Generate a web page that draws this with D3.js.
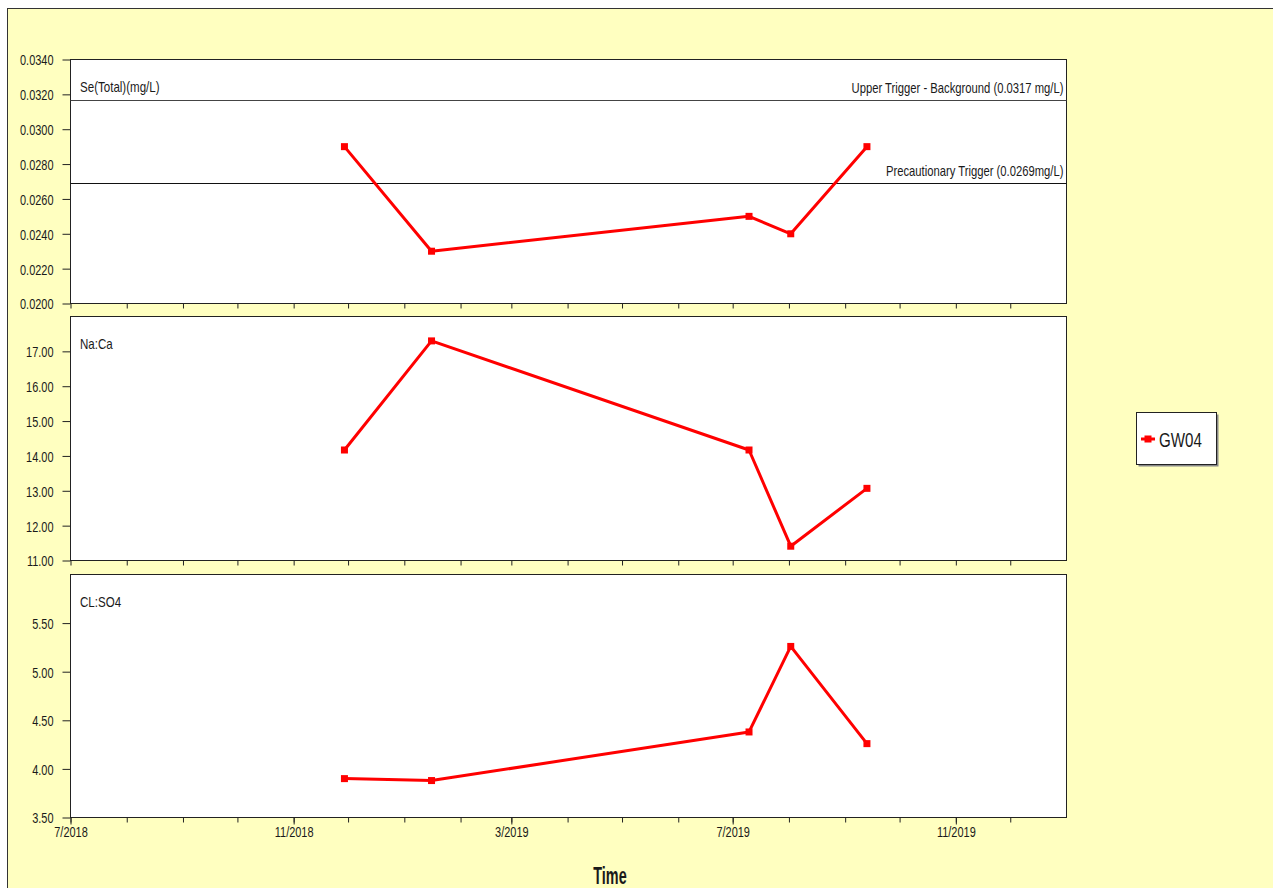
<!DOCTYPE html>
<html>
<head>
<meta charset="utf-8">
<script src="https://cdn.jsdelivr.net/npm/d3@7/dist/d3.min.js"></script>
<style>
  html, body { margin: 0; padding: 0; background: #ffffff; }
  svg { display: block; }
  text { font-family: "Liberation Sans Narrow", "Arial Narrow", "Liberation Sans", Arial, sans-serif; fill: #1a1a1a; }
</style>
</head>
<body>
<svg id="chart" width="1273" height="888"></svg>
<script>
// Sample dates for well GW04
const sampleDates = ["2018-11-29", "2019-01-16", "2019-07-10", "2019-08-02", "2019-09-13"];
// Measured values per parameter
const seTotal = [0.029, 0.023, 0.025, 0.024, 0.029];
const naCa = [14.17, 17.30, 14.17, 11.41, 13.07];
const clSo4 = [3.90, 3.88, 4.38, 5.26, 4.26];
// Trigger levels for selenium
const triggerValues = [0.0317, 0.0269];
const triggerLabels = ["Upper Trigger - Background (0.0317 mg/L)", "Precautionary Trigger (0.0269mg/L)"];
// Panel titles and y domains / tick values
const panelTitles = ["Se(Total)(mg/L)", "Na:Ca", "CL:SO4"];
const panelDomains = [[0.020, 0.034], [11, 18], [3.5, 6.0]];
const panelTicks = [
  [0.0200, 0.0220, 0.0240, 0.0260, 0.0280, 0.0300, 0.0320, 0.0340],
  [11, 12, 13, 14, 15, 16, 17],
  [3.5, 4.0, 4.5, 5.0, 5.5]
];
const panelFormats = [".4f", ".2f", ".2f"];
const seriesName = "GW04";
const xTitle = "Time";

const svg = d3.select("#chart");
const parse = d3.timeParse("%Y-%m-%d");
const dates = sampleDates.map(parse);

// Narrow lettering: squeeze each glyph run horizontally by a factor
function condense(sel, f) {
  sel.each(function () {
    const len = this.getComputedTextLength();
    d3.select(this).attr("textLength", len * f).attr("lengthAdjust", "spacingAndGlyphs");
  });
}

// Chart background with its frame
svg.append("rect").attr("x", 7.5).attr("y", 8.5).attr("width", 1280).attr("height", 900)
  .attr("fill", "#ffffc0").attr("stroke", "#333").attr("stroke-width", 1);

const left = 70.5, right = 1066.5;
const panels = [
  { top: 59.5, bottom: 303.5, values: seTotal },
  { top: 316.5, bottom: 560.5, values: naCa },
  { top: 574.5, bottom: 817.5, values: clSo4 }
];

const x = d3.scaleTime()
  .domain([new Date(2018, 6, 1), new Date(2020, 0, 1)])
  .range([left, right]);

const monthTicks = d3.timeMonth.range(new Date(2018, 6, 1), new Date(2020, 0, 1));

panels.forEach((p, i) => {
  const y = d3.scaleLinear().domain(panelDomains[i]).range([p.bottom, p.top]);
  const g = svg.append("g");

  g.append("rect").attr("x", left).attr("y", p.top)
    .attr("width", right - left).attr("height", p.bottom - p.top)
    .attr("fill", "#ffffff").attr("stroke", "#222").attr("stroke-width", 1);

  // y axis
  const yAxis = d3.axisLeft(y).tickValues(panelTicks[i])
    .tickFormat(d3.format(panelFormats[i])).tickSize(8).tickSizeOuter(0).tickPadding(9);
  const ya = g.append("g").attr("transform", `translate(${left},0)`).call(yAxis);
  ya.select(".domain").remove();
  ya.selectAll("line").attr("stroke", "#222");
  ya.selectAll("text").attr("font-size", 15).style("font-family", null).attr("fill", "#1a1a1a")
    .attr("dy", "0.36em").call(condense, 0.73);

  // monthly ticks under each panel
  const isBottom = i === panels.length - 1;
  const xAxis = d3.axisBottom(x).tickValues(monthTicks)
    .tickSize(5).tickSizeOuter(0).tickFormat("");
  const xa = g.append("g").attr("transform", `translate(0,${p.bottom})`).call(xAxis);
  xa.select(".domain").remove();
  xa.selectAll("line").attr("stroke", "#222");

  if (isBottom) {
    const labelTicks = monthTicks.filter((d, k) => k % 4 === 0);
    const xl = g.append("g").attr("transform", `translate(0,${p.bottom})`)
      .call(d3.axisBottom(x).tickValues(labelTicks).tickSize(7)
        .tickFormat(d3.timeFormat("%-m/%Y")).tickPadding(2));
    xl.select(".domain").remove();
    xl.selectAll("line").attr("stroke", "#222");
    xl.selectAll("text").attr("font-size", 15).style("font-family", null).attr("fill", "#1a1a1a")
      .call(condense, 0.73);
  }

  // panel title
  g.append("text").attr("x", 80).attr("y", p.top + 32)
    .attr("font-size", 15).text(panelTitles[i]).call(condense, 0.77);

  // trigger lines for the selenium panel
  if (i === 0) {
    triggerValues.forEach((v, k) => {
      const ty = Math.round(y(v)) + 0.5;
      g.append("line").attr("x1", left).attr("x2", right).attr("y1", ty).attr("y2", ty)
        .attr("stroke", k === 0 ? "#444" : "#111").attr("stroke-width", 1);
      g.append("text").attr("x", right - 3).attr("y", ty - 7.5)
        .attr("text-anchor", "end").attr("font-size", 15).text(triggerLabels[k])
        .call(condense, 0.75);
    });
  }

  // data series
  const pts = dates.map((d, k) => [x(d), y(p.values[k])]);
  g.append("path").attr("d", d3.line()(pts))
    .attr("fill", "none").attr("stroke", "#ff0000").attr("stroke-width", 3)
    .attr("stroke-linejoin", "round");
  g.selectAll("rect.marker").data(pts).join("rect").attr("class", "marker")
    .attr("x", d => d[0] - 3.5).attr("y", d => d[1] - 3.5)
    .attr("width", 7).attr("height", 7).attr("fill", "#ff0000");
});

// axis title
svg.append("text").attr("x", 610).attr("y", 884).attr("text-anchor", "middle")
  .attr("font-size", 24).attr("font-weight", "bold").text(xTitle).call(condense, 0.6);

// legend
const lg = svg.append("g");
lg.append("rect").attr("x", 1138.5).attr("y", 414.5).attr("width", 80).attr("height", 52)
  .attr("fill", "#888");
lg.append("rect").attr("x", 1136.5).attr("y", 412.5).attr("width", 80).attr("height", 52)
  .attr("fill", "#ffffff").attr("stroke", "#222").attr("stroke-width", 1);
lg.append("line").attr("x1", 1141).attr("x2", 1155).attr("y1", 439).attr("y2", 439)
  .attr("stroke", "#ff0000").attr("stroke-width", 3);
lg.append("rect").attr("x", 1144.5).attr("y", 435.5).attr("width", 7).attr("height", 7).attr("fill", "#ff0000");
lg.append("text").attr("x", 1159).attr("y", 446.5).attr("font-size", 21).text(seriesName)
  .call(condense, 0.72);
</script>
</body>
</html>
